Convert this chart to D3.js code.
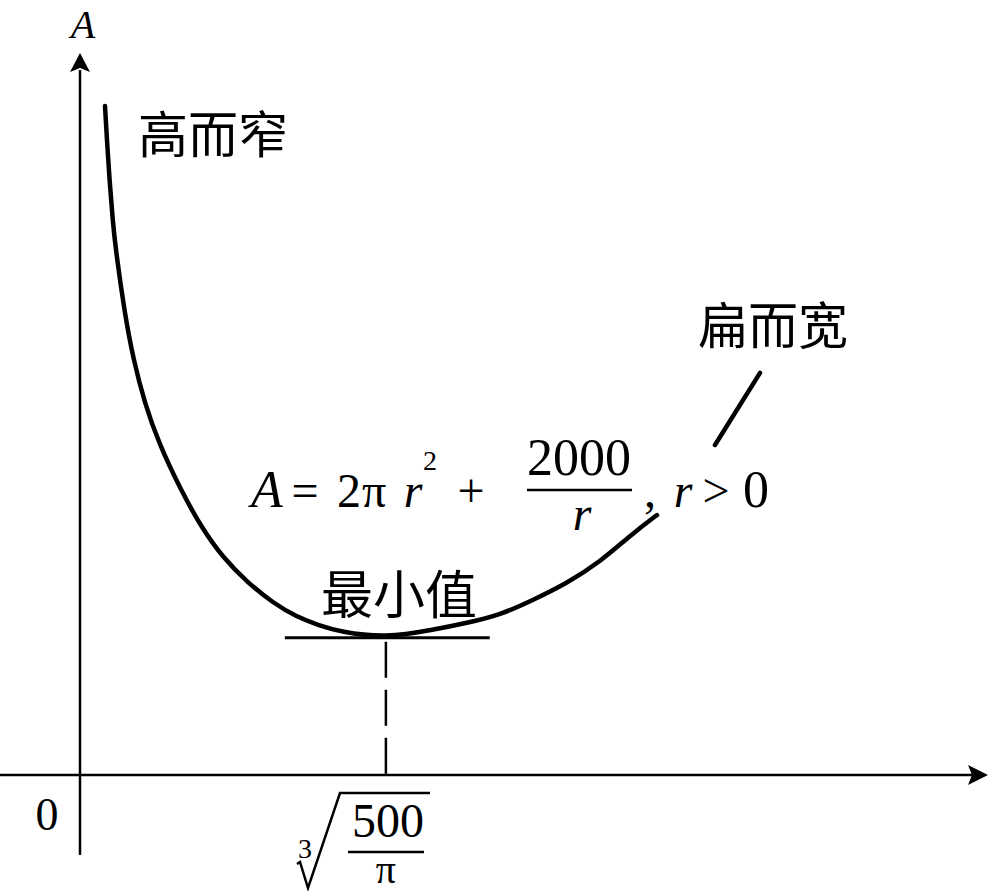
<!DOCTYPE html>
<html>
<head>
<meta charset="utf-8">
<script src="https://cdn.jsdelivr.net/npm/d3@7"></script>
<style>
  html, body { margin: 0; padding: 0; background: #fff; }
  svg { display: block; }
  .serif { font-family: "Liberation Serif", "DejaVu Serif", serif; }
  .cjk { font-family: "Noto Sans CJK SC", "Noto Sans CJK JP", sans-serif; }
</style>
</head>
<body>
<svg id="chart" width="989" height="891"></svg>
<script>
// ---- data ----
const rValues    = [0.443, 0.477, 0.523, 0.579, 0.627, 0.790, 0.948, 1.146, 1.394, 1.786, 2.147, 2.520, 2.980, 3.420, 3.845, 4.217, 4.607, 5.42, 6.255, 6.857, 7.442, 8.027, 8.629, 9.214, 9.798, 10.224, null, 11.251, 12.049];
const areaValues = [2702, 2565, 2403, 2242, 2133, 1866, 1676, 1502, 1341, 1151, 1002, 881, 775, 695, 638, 606, 578, 554, 586, 614, 646, 707, 775, 860, 977, 1050, null, 1333, 1624];
const minR = 5.42;          // cube root of 500/pi
const minA = 554;
const tangentR = [3.63, 7.26];
const xDomain = [0, 16];
const yDomain = [0, 2900];
const yAxisLabel = "A";
const originLabel = "0";
const narrowLabel = "高而窄";
const wideLabel = "扁而宽";
const minLabel = "最小值";
const tickRoot = "3", tickNum = "500", tickDen = "π";

// ---- scales ----
const svg = d3.select("#chart");
const x = d3.scaleLinear().domain(xDomain).range([80, 983]);
const y = d3.scaleLinear().domain(yDomain).range([775, 57]);
const x0 = x(0), y0 = y(0);

// ---- axes ----
const axisG = svg.append("g").attr("stroke", "#000").attr("fill", "#000");
axisG.append("line").attr("x1", 0).attr("x2", 972).attr("y1", y0).attr("y2", y0).attr("stroke-width", 2.5);
axisG.append("path").attr("d", `M988,${y0} L968,${y0 - 10} L972,${y0} L968,${y0 + 10} Z`).attr("stroke", "none");
axisG.append("line").attr("x1", x0).attr("x2", x0).attr("y1", 855).attr("y2", 70).attr("stroke-width", 2.5);
axisG.append("path").attr("d", `M${x0},53 L${x0 - 10},72 L${x0},68 L${x0 + 10},72 Z`).attr("stroke", "none");

// ---- curve ----
const pts = rValues.map((r, i) => ({ r, a: areaValues[i] }));
const line = d3.line()
  .defined(d => d.r != null && d.a != null)
  .x(d => x(d.r)).y(d => y(d.a))
  .curve(d3.curveBasis);
svg.append("path").datum(pts).attr("d", line)
  .attr("fill", "none").attr("stroke", "#000").attr("stroke-width", 4.5)
  .attr("stroke-linecap", "round");

// tangent at minimum
svg.append("line")
  .attr("x1", x(tangentR[0])).attr("x2", x(tangentR[1]))
  .attr("y1", y(minA)).attr("y2", y(minA))
  .attr("stroke", "#000").attr("stroke-width", 3);

// dashed drop line
svg.append("line")
  .attr("x1", x(minR)).attr("x2", x(minR))
  .attr("y1", y(minA) + 4).attr("y2", y0)
  .attr("stroke", "#000").attr("stroke-width", 2.5)
  .attr("stroke-dasharray", "36,12");

// ---- text ----
svg.append("text").attr("class", "serif").attr("x", 83).attr("y", 38)
  .attr("text-anchor", "middle").attr("font-size", 40).attr("font-style", "italic").text(yAxisLabel);
svg.append("text").attr("class", "serif").attr("x", 47).attr("y", 830)
  .attr("text-anchor", "middle").attr("font-size", 46).text(originLabel);

svg.append("text").attr("class", "cjk").attr("x", 138).attr("y", 153)
  .attr("font-size", 50).text(narrowLabel);
svg.append("text").attr("class", "cjk").attr("x", 698).attr("y", 344)
  .attr("font-size", 50).text(wideLabel);
svg.append("text").attr("class", "cjk").attr("x", 321).attr("y", 614)
  .attr("font-size", 52).text(minLabel);

// formula A = 2π r² + 2000/r , r > 0
const f = svg.append("g").attr("class", "serif").attr("font-size", 48).attr("fill", "#000");
const fb = 507;
f.append("text").attr("x", 267).attr("y", fb).attr("text-anchor", "middle").attr("font-style", "italic").attr("font-size", 52).text("A");
f.append("text").attr("x", 305).attr("y", fb).attr("text-anchor", "middle").text("=");
f.append("text").attr("x", 349).attr("y", fb).attr("text-anchor", "middle").text("2");
f.append("text").attr("x", 374).attr("y", fb).attr("text-anchor", "middle").text("π");
f.append("text").attr("x", 413).attr("y", fb).attr("text-anchor", "middle").attr("font-style", "italic").text("r");
f.append("text").attr("x", 430).attr("y", 470).attr("text-anchor", "middle").attr("font-size", 28).text("2");
f.append("text").attr("x", 471).attr("y", fb).attr("text-anchor", "middle").text("+");
f.append("text").attr("x", 579).attr("y", 475).attr("text-anchor", "middle").attr("font-size", 52).text("2000");
f.append("line").attr("x1", 527).attr("x2", 632).attr("y1", 490).attr("y2", 490)
  .attr("stroke", "#000").attr("stroke-width", 2.5);
f.append("text").attr("x", 582).attr("y", 530).attr("text-anchor", "middle").attr("font-style", "italic").text("r");
f.append("text").attr("x", 650).attr("y", fb).attr("text-anchor", "middle").text(",");
f.append("text").attr("x", 683).attr("y", fb).attr("text-anchor", "middle").attr("font-style", "italic").text("r");
f.append("text").attr("x", 716).attr("y", fb).attr("text-anchor", "middle").text(">");
f.append("text").attr("x", 756).attr("y", fb).attr("text-anchor", "middle").attr("font-size", 52).text("0");

// tick label: cube root of 500/π
const t = svg.append("g").attr("class", "serif").attr("fill", "#000");
const cx = x(minR);
t.append("text").attr("x", 305).attr("y", 858).attr("text-anchor", "middle").attr("font-size", 28).text(tickRoot);
t.append("path").attr("d", "M297,864 L300,862 L308,888 L340,793 L430,793")
  .attr("fill", "none").attr("stroke", "#000").attr("stroke-width", 2.5);
t.append("text").attr("x", cx + 2).attr("y", 837).attr("text-anchor", "middle").attr("font-size", 48).text(tickNum);
t.append("line").attr("x1", 348).attr("x2", 424).attr("y1", 852).attr("y2", 852)
  .attr("stroke", "#000").attr("stroke-width", 2.5);
t.append("text").attr("x", cx).attr("y", 883).attr("text-anchor", "middle").attr("font-size", 40).text(tickDen);
</script>
</body>
</html>
